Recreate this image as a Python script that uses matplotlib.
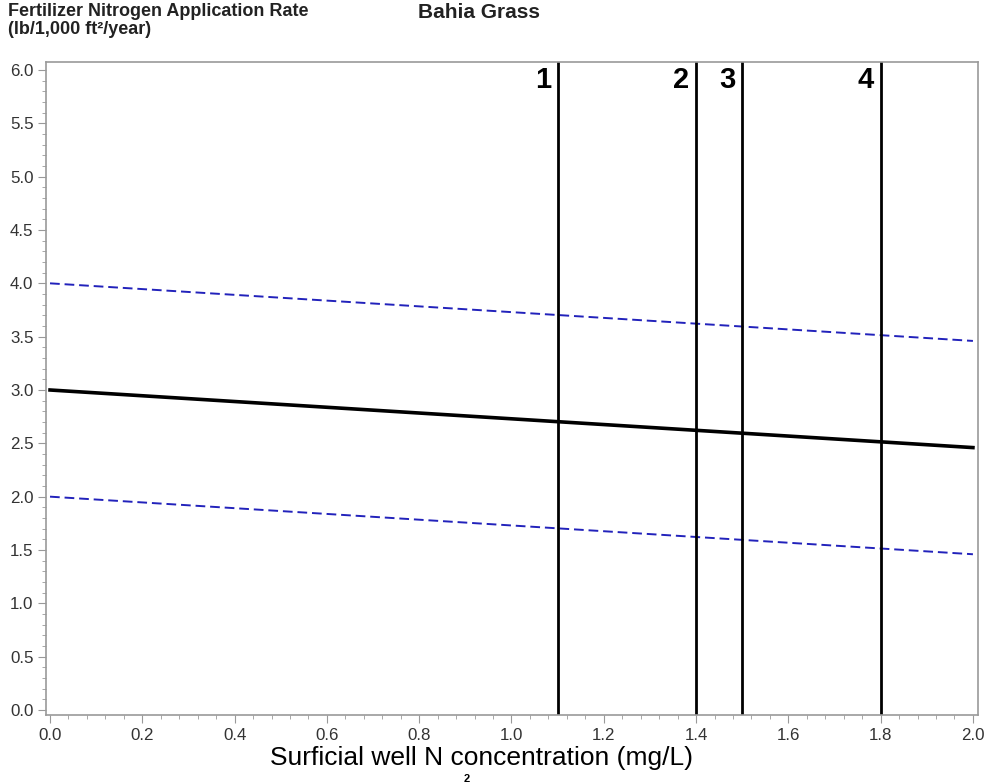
import matplotlib.pyplot as plt
from matplotlib.ticker import MultipleLocator

plt.rcParams['font.family'] = ['Liberation Sans', 'DejaVu Sans']

# data
conc = [0.0, 2.0]
rate_mid = [3.0, 2.46]
rate_upper = [4.0, 3.46]
rate_lower = [2.0, 1.46]
cutoff_x = [1.1, 1.4, 1.5, 1.8]
cutoff_labels = ['1', '2', '3', '4']

fig = plt.figure(figsize=(9.85, 7.84), dpi=100)
ax = fig.add_axes([46 / 985, 1 - 715 / 784, (978 - 46) / 985, (715 - 62) / 784])

ax.plot(conc, rate_upper, '--', color='#2222bb', lw=1.4, dashes=(5, 2.5))
ax.plot(conc, rate_lower, '--', color='#2222bb', lw=1.4, dashes=(5, 2.5))
ax.plot(conc, rate_mid, '-', color='black', lw=2.6)

for xv, lab in zip(cutoff_x, cutoff_labels):
    ax.axvline(xv, color='black', lw=2)
    ax.text(xv - 0.014, 5.91, lab, ha='right', va='center', fontsize=21,
            fontweight='bold')

ax.set_xlim(-0.0087, 2.011)
ax.set_ylim(-0.047, 6.075)
ax.xaxis.set_major_locator(MultipleLocator(0.2))
ax.xaxis.set_minor_locator(MultipleLocator(0.04))
ax.yaxis.set_major_locator(MultipleLocator(0.5))
ax.yaxis.set_minor_locator(MultipleLocator(0.1))
ax.xaxis.set_major_formatter(plt.FuncFormatter(lambda v, p: f'{v:.1f}'))
ax.yaxis.set_major_formatter(plt.FuncFormatter(lambda v, p: f'{v:.1f}'))

for s in ax.spines.values():
    s.set_color('#999999')
    s.set_linewidth(1.2)
ax.tick_params(which='major', length=6, color='#999999', labelsize=12.2,
               labelcolor='#333333', pad=3)
ax.tick_params(which='minor', length=3, color='#999999')

fig.text(8 / 985, 1 - 12 / 784, 'Fertilizer Nitrogen Application Rate',
         fontsize=13, fontweight='bold', va='center', color='#222222')
fig.text(8 / 985, 1 - 30 / 784, '(lb/1,000 ft²/year)',
         fontsize=13, fontweight='bold', va='center', color='#222222')
fig.text(479 / 985, 1 - 12 / 784, 'Bahia Grass', fontsize=15,
         fontweight='bold', ha='center', va='center', color='#222222')
fig.text(481 / 985, 1 - 758 / 784, 'Surficial well N concentration (mg/L)',
         fontsize=19, ha='center', va='center')
fig.text(467 / 985, 1 - 779 / 784, '2', fontsize=8, fontweight='bold',
         ha='center', va='center')

fig.savefig('out.png', dpi=100)
